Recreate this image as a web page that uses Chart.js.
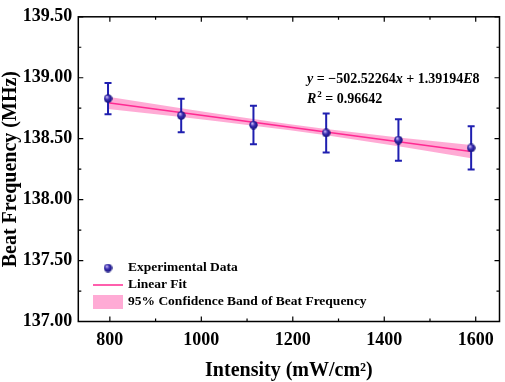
<!DOCTYPE html>
<html lang="en">
<head>
    <meta charset="UTF-8">
    <title>Beat Frequency vs Intensity</title>
    <script src="https://cdn.jsdelivr.net/npm/chart.js"></script>
    <style>
        html, body { margin: 0; padding: 0; background: #fff; }
        #wrap { width: 505px; height: 382px; }
    </style>
</head>
<body>
    <div id="wrap"><canvas id="beatChart" width="505" height="382"></canvas></div>

    <script>
        // measured points
        const intensity = [796, 956, 1114, 1273, 1431, 1590];
        const beatFreq = [138.829, 138.690, 138.612, 138.547, 138.489, 138.424];
        const beatErr = [0.128, 0.138, 0.158, 0.160, 0.171, 0.177];

        // linear fit end points
        const fitX = [796, 1590];
        const fitY = [138.794, 138.395];

        // 95% confidence band
        const bandX = [796, 876, 956, 1035, 1114, 1194, 1273, 1352, 1431, 1511, 1590];
        const bandUpper = [138.844, 138.797, 138.750, 138.705, 138.661, 138.619, 138.580, 138.544, 138.510, 138.479, 138.449];
        const bandLower = [138.744, 138.711, 138.678, 138.643, 138.607, 138.569, 138.528, 138.484, 138.438, 138.389, 138.339];

        const xTicks = [800, 1000, 1200, 1400, 1600];
        const xMinor = [900, 1100, 1300, 1500];
        const yTicks = [137.0, 137.5, 138.0, 138.5, 139.0, 139.5];
        const yMinor = [137.25, 137.75, 138.25, 138.75, 139.25];

        const SERIF = "'Liberation Serif', 'Times New Roman', serif";
        const PINK_LINE = '#ff2a92';
        const PINK_BAND = 'rgba(255, 102, 178, 0.55)';
        const BLUE_BAR = '#1f1fb0';

        function makeSphere(d) {
            const c = document.createElement('canvas');
            c.width = d; c.height = d;
            const g = c.getContext('2d');
            const r = d / 2;
            const grad = g.createRadialGradient(r * 0.7, r * 0.6, 0.3, r, r, r);
            grad.addColorStop(0, '#cdbff6');
            grad.addColorStop(0.45, '#3b2db2');
            grad.addColorStop(1, '#0e0e74');
            g.fillStyle = grad;
            g.beginPath();
            g.arc(r, r, r - 0.3, 0, Math.PI * 2);
            g.fill();
            return c;
        }
        const sphere = makeSphere(9);

        const pts = (xs, ys) => xs.map((x, i) => ({ x: x, y: ys[i] }));

        function drawRuns(ctx, x, y, runs) {
            runs.forEach(r => {
                ctx.font = r.f;
                ctx.fillText(r.t, x + (r.dx || 0), y + (r.dy || 0));
                x += ctx.measureText(r.t).width + (r.dx || 0);
            });
        }

        // error bars, drawn just before the points so the markers sit on top
        const errorBars = {
            id: 'errorBars',
            beforeDatasetDraw(chart, args) {
                if (args.index !== 0) return;
                const ctx = chart.ctx, xs = chart.scales.x, ys = chart.scales.y;
                ctx.save();
                ctx.strokeStyle = BLUE_BAR;
                ctx.lineWidth = 2;
                intensity.forEach((v, i) => {
                    const px = xs.getPixelForValue(v);
                    const top = ys.getPixelForValue(beatFreq[i] + beatErr[i]);
                    const bot = ys.getPixelForValue(beatFreq[i] - beatErr[i]);
                    ctx.beginPath();
                    ctx.moveTo(px, top); ctx.lineTo(px, bot);
                    ctx.moveTo(px - 3.5, top); ctx.lineTo(px + 3.5, top);
                    ctx.moveTo(px - 3.5, bot); ctx.lineTo(px + 3.5, bot);
                    ctx.stroke();
                });
                ctx.restore();
            }
        };

        // frame, inward ticks, titles, legend, fit equation
        const decorations = {
            id: 'decorations',
            afterDraw(chart) {
                const ctx = chart.ctx, a = chart.chartArea;
                const xs = chart.scales.x, ys = chart.scales.y;
                ctx.save();
                ctx.strokeStyle = '#000';
                ctx.lineWidth = 1.5;
                ctx.strokeRect(a.left, a.top, a.right - a.left, a.bottom - a.top);

                ctx.lineWidth = 1.2;
                ctx.beginPath();
                const xt = (v, len) => {
                    const p = xs.getPixelForValue(v);
                    ctx.moveTo(p, a.bottom); ctx.lineTo(p, a.bottom - len);
                    ctx.moveTo(p, a.top); ctx.lineTo(p, a.top + len);
                };
                const yt = (v, len) => {
                    const p = ys.getPixelForValue(v);
                    ctx.moveTo(a.left, p); ctx.lineTo(a.left + len, p);
                    ctx.moveTo(a.right, p); ctx.lineTo(a.right - len, p);
                };
                xTicks.forEach(v => xt(v, 5));
                xMinor.forEach(v => xt(v, 3));
                yTicks.forEach(v => yt(v, 5));
                yMinor.forEach(v => yt(v, 3));
                ctx.stroke();

                // axis titles
                ctx.fillStyle = '#000';
                ctx.font = 'bold 20px ' + SERIF;
                ctx.textAlign = 'center';
                ctx.textBaseline = 'alphabetic';
                ctx.fillText('Intensity (mW/cm\u00B2)', (a.left + a.right) / 2, 375.5);
                ctx.save();
                ctx.translate(16, (a.top + a.bottom) / 2);
                ctx.rotate(-Math.PI / 2);
                ctx.fillText('Beat Frequency (MHz)', 0, 0);
                ctx.restore();

                // legend
                ctx.textAlign = 'left';
                ctx.textBaseline = 'middle';
                ctx.font = 'bold 13.5px ' + SERIF;
                ctx.drawImage(sphere, 108 - 4.5, 268 - 4.5);
                ctx.fillText('Experimental Data', 128, 268);
                ctx.strokeStyle = PINK_LINE;
                ctx.lineWidth = 1.5;
                ctx.beginPath(); ctx.moveTo(93, 285); ctx.lineTo(123, 285); ctx.stroke();
                ctx.fillText('Linear Fit', 128, 285);
                ctx.fillStyle = PINK_BAND;
                ctx.fillRect(93, 295, 30, 14);
                ctx.fillStyle = '#000';
                ctx.fillText('95% Confidence Band of Beat Frequency', 128, 302);

                // fit equation
                ctx.textBaseline = 'alphabetic';
                const it = 'italic bold 14px ' + SERIF, nb = 'bold 14px ' + SERIF;
                drawRuns(ctx, 307, 83, [
                    { t: 'y', f: it }, { t: ' = \u2212502.52264', f: nb }, { t: 'x', f: it },
                    { t: ' + 1.39194', f: nb }, { t: 'E', f: it }, { t: '8', f: nb }
                ]);
                drawRuns(ctx, 307, 103, [
                    { t: 'R', f: it }, { t: '2', f: 'bold 9px ' + SERIF, dy: -6, dx: 1 },
                    { t: ' = 0.96642', f: nb }
                ]);
                ctx.restore();
            }
        };

        new Chart(document.getElementById('beatChart'), {
            type: 'line',
            data: {
                datasets: [
                    {
                        label: 'Experimental Data',
                        data: pts(intensity, beatFreq),
                        showLine: false,
                        pointStyle: sphere,
                        pointRadius: 4.5
                    },
                    {
                        label: 'Linear Fit',
                        data: pts(fitX, fitY),
                        borderColor: PINK_LINE,
                        borderWidth: 1.5,
                        pointRadius: 0
                    },
                    {
                        label: 'band upper',
                        data: pts(bandX, bandUpper),
                        borderWidth: 0,
                        borderColor: 'rgba(0,0,0,0)',
                        backgroundColor: PINK_BAND,
                        pointRadius: 0,
                        fill: '+1'
                    },
                    {
                        label: 'band lower',
                        data: pts(bandX, bandLower),
                        borderWidth: 0,
                        borderColor: 'rgba(0,0,0,0)',
                        pointRadius: 0,
                        fill: false
                    }
                ]
            },
            options: {
                responsive: false,
                animation: false,
                layout: { padding: { top: 10.5, right: 3.3, left: 0, bottom: 0 } },
                plugins: { legend: { display: false }, tooltip: { enabled: false } },
                scales: {
                    x: {
                        type: 'linear',
                        min: 731,
                        max: 1652,
                        grid: { display: false, drawTicks: false },
                        border: { display: false },
                        afterBuildTicks: s => { s.ticks = xTicks.map(v => ({ value: v })); },
                        afterFit: s => { s.height = 60.5; },
                        ticks: {
                            color: '#000',
                            padding: 8,
                            maxRotation: 0,
                            font: { family: SERIF, size: 18, weight: 'bold' },
                            callback: v => String(v)
                        }
                    },
                    y: {
                        min: 137,
                        max: 139.5,
                        grid: { display: false, drawTicks: false },
                        border: { display: false },
                        afterBuildTicks: s => { s.ticks = yTicks.map(v => ({ value: v })); },
                        afterFit: s => { s.width = 78.3; },
                        ticks: {
                            color: '#000',
                            padding: 6,
                            font: { family: SERIF, size: 18, weight: 'bold' },
                            callback: v => Number(v).toFixed(2)
                        }
                    }
                }
            },
            plugins: [errorBars, decorations]
        });
    </script>
</body>
</html>
